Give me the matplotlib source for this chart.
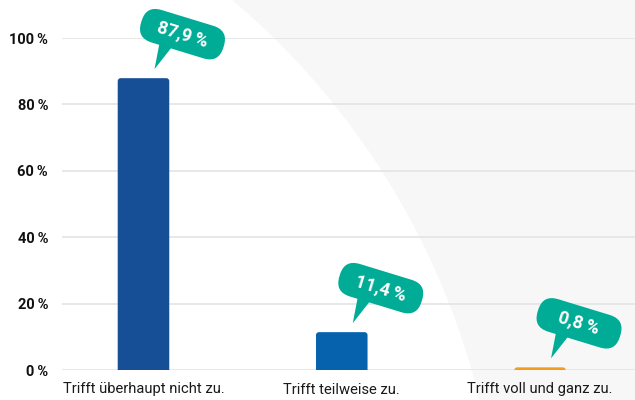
import matplotlib
matplotlib.use("Agg")
import matplotlib.pyplot as plt
from matplotlib.patches import FancyBboxPatch, Polygon, Ellipse
from matplotlib.transforms import Affine2D, ScaledTranslation

categories = ["Trifft überhaupt nicht zu.", "Trifft teilweise zu.", "Trifft voll und ganz zu."]
values = [87.9, 11.4, 0.8]
value_labels = ["87,9\u2009%", "11,4\u2009%", "0,8\u2009%"]
bar_colors = ["#174f96", "#0762ad", "#f39c1f"]
yticks = [0, 20, 40, 60, 80, 100]
ytick_labels = ["0\u2009%", "20\u2009%", "40\u2009%", "60\u2009%", "80\u2009%", "100\u2009%"]

FONT = ["Roboto", "DejaVu Sans"]
plt.rcParams["font.family"] = FONT

W, H = 635, 400
fig = plt.figure(figsize=(W / 100, H / 100), dpi=100, facecolor="#f7f7f7")

# white circular background region (bottom-left)
cx, cy, r = -257, 579, 758
fig.patches.append(Ellipse((cx / W, 1 - cy / H), 2 * r / W, 2 * r / H,
                           transform=fig.transFigure, facecolor="white",
                           edgecolor="none", zorder=-5))

ax = fig.add_axes([62 / W, 30 / H, 1 - 62 / W, 332 / H])
ax.set_facecolor("none")
ax.set_xlim(-0.411, 2.479)
ax.set_ylim(0, 100)

for s in ax.spines.values():
    s.set_visible(False)

ax.set_yticks(yticks)
ax.set_yticklabels(ytick_labels, fontsize=10.5, fontweight="bold", color="#111111")
ax.tick_params(axis="y", length=0, pad=10)
ax.set_xticks(range(len(categories)))
ax.set_xticklabels(categories, fontsize=10.6, color="#1a1a1a")
ax.tick_params(axis="x", length=0, pad=9)
ax.yaxis.grid(True, color="#e6e6e6", linewidth=1.3)
ax.set_axisbelow(True)

bars = ax.bar(range(len(categories)), values, width=0.26, color=bar_colors, zorder=2)

# rounded top corners: replace rectangles with rounded boxes (bottom part hidden below 0)
px_x = 1 / 198.25          # data units per pixel in x
px_y = 100 / 332           # data units per pixel in y
rad = 3 * px_x
for b in bars:
    x0, w, h = b.get_x(), b.get_width(), b.get_height()
    ext = 4 * px_y
    fb = FancyBboxPatch((x0, -ext), w, h + ext,
                        boxstyle=f"round,pad=0,rounding_size={rad}",
                        mutation_aspect=px_y / px_x,
                        facecolor=b.get_facecolor(), edgecolor="none", zorder=2)
    ax.add_patch(fb)
    b.set_visible(False)

teal = "#00ac96"
for i, (v, lab) in enumerate(zip(values, value_labels)):
    base = ScaledTranslation(i, v, ax.transData)
    # tail
    tail = Polygon([(17, 40), (33, 37), (11, 9)], closed=True,
                   transform=Affine2D() + base, facecolor=teal,
                   edgecolor="none", zorder=4, clip_on=False)
    fig.add_artist(tail)
    # bubble
    bt = Affine2D().rotate_deg(-17).translate(39, 44) + base
    bub = FancyBboxPatch((-43, -17), 86, 34,
                         boxstyle="round,pad=0,rounding_size=16",
                         transform=bt, facecolor=teal, edgecolor="none",
                         zorder=5, clip_on=False)
    fig.add_artist(bub)
    fig.text(0, 0, lab, transform=Affine2D().translate(39, 44) + base,
             ha="center", va="center", rotation=-17,
             rotation_mode="anchor", color="white", fontsize=13,
             fontweight="bold", zorder=6)

fig.savefig("out.png", dpi=100, facecolor=fig.get_facecolor())
